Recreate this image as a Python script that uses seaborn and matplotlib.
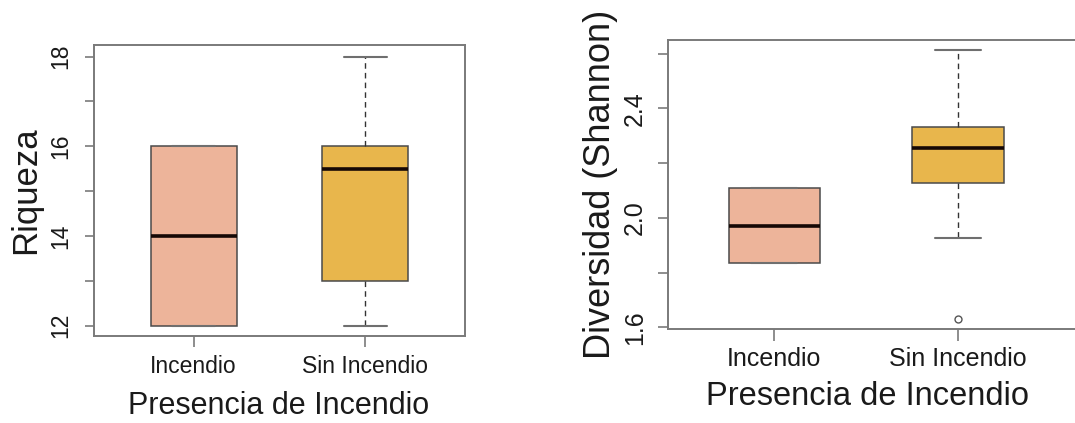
import numpy as np
import pandas as pd
import matplotlib
matplotlib.use("Agg")
import matplotlib.pyplot as plt
import seaborn as sns

# ---------------- data ----------------
categories = ["Incendio", "Sin Incendio"]
fill_colors = ["#EDB49A", "#E8B64C"]

# Riqueza: five-number summaries per group
riq_low = [12, 12]
riq_q1 = [12, 13]
riq_med = [14, 15.5]
riq_q3 = [16, 16]
riq_high = [16, 18]
riq_outliers = [[], []]
riq_ticks = [12, 13, 14, 15, 16, 17, 18]
riq_ticklabels = ["12", "", "14", "", "16", "", "18"]

# Diversidad (Shannon): five-number summaries per group
div_low = [1.836, 1.927]
div_q1 = [1.836, 2.126]
div_med = [1.972, 2.256]
div_q3 = [2.110, 2.333]
div_high = [2.110, 2.615]
div_outliers = [[], [1.632]]
div_ticks = [1.6, 1.8, 2.0, 2.2, 2.4, 2.6]
div_ticklabels = ["1.6", "", "2.0", "", "2.4", ""]


def build_table(low, q1, med, q3, high, outliers):
    """Long table whose quartiles/whiskers reproduce the summaries (n=9 per group)."""
    rows = []
    for i, cat in enumerate(categories):
        below = [o for o in outliers[i] if o < q1[i]]
        above = [o for o in outliers[i] if o > q3[i]]
        lower = (below + [low[i], low[i]])[:2]
        upper = ([high[i], high[i]] + above)[-2:]
        vals = lower + [q1[i], q1[i], med[i], q3[i], q3[i]] + upper
        rows += [(cat, v) for v in vals]
    return pd.DataFrame(rows, columns=["grupo", "valor"])


df_riq = build_table(riq_low, riq_q1, riq_med, riq_q3, riq_high, riq_outliers)
df_div = build_table(div_low, div_q1, div_med, div_q3, div_high, div_outliers)

# ---------------- style ----------------
sns.set_theme(style="ticks")
plt.rcParams["font.family"] = ["Liberation Sans", "DejaVu Sans"]

SPINE = "#7a7a7a"
TEXT = "#1a1a1a"

fig = plt.figure(figsize=(10.75, 4.23), dpi=100)
W, H = 1075.0, 423.0


def px_axes(x0, y0, x1, y1):
    return fig.add_axes([x0 / W, 1 - y1 / H, (x1 - x0) / W, (y1 - y0) / H])


ax1 = px_axes(94, 45, 465, 336)
ax2 = px_axes(668, 40, 1080, 329)


def draw(ax, df, xlim, ylim, ticks, ticklabels, ylabel, tick_fs, label_fs, ylabel_fs,
         ytick_len, ytick_pad, xtick_len, xtick_pad, ylab_x, xlab_y, xlab_x):
    sns.boxplot(
        data=df, x="grupo", y="valor", hue="grupo", order=categories,
        hue_order=categories, palette=fill_colors, saturation=1, width=0.5,
        whis=1.5, linecolor="#4a4a4a", linewidth=1.1, legend=False, ax=ax,
        medianprops={"color": "#150805", "linewidth": 2.6},
        whiskerprops={"color": "#333333", "linewidth": 1.0, "linestyle": (0, (4, 3))},
        capprops={"color": "#6f6f6f", "linewidth": 1.5},
        flierprops={"marker": "o", "markersize": 5, "markerfacecolor": "white",
                    "markeredgecolor": "#555555", "markeredgewidth": 1.0},
    )
    ax.set_xlim(*xlim)
    ax.set_ylim(*ylim)
    ax.set_yticks(ticks)
    ax.set_yticklabels(ticklabels)
    ax.set_xticks(range(len(categories)))
    ax.set_xticklabels(categories)
    for s in ax.spines.values():
        s.set_visible(True)
        s.set_color(SPINE)
        s.set_linewidth(1.4)
    ax.tick_params(axis="y", length=ytick_len, width=1.2, color=SPINE, pad=ytick_pad,
                   labelsize=tick_fs, labelcolor=TEXT, labelrotation=90)
    ax.tick_params(axis="x", length=xtick_len, width=1.2, color=SPINE, pad=xtick_pad,
                   labelsize=tick_fs, labelcolor=TEXT)
    for lab in ax.get_yticklabels():
        lab.set_va("center")
    ax.set_ylabel(ylabel, fontsize=ylabel_fs, color=TEXT)
    ax.set_xlabel("Presencia de Incendio", fontsize=label_fs, color=TEXT)
    ax.yaxis.set_label_coords(ylab_x, 0.5)
    ax.xaxis.set_label_coords(xlab_x, xlab_y)
    ax.set_facecolor("white")


draw(ax1, df_riq, (-0.58, 1.58), (11.77, 18.26), riq_ticks, riq_ticklabels, "Riqueza",
     tick_fs=16.5, label_fs=22, ylabel_fs=25, ytick_len=6.5, ytick_pad=9,
     xtick_len=8, xtick_pad=6, ylab_x=-0.14, xlab_y=-0.19, xlab_x=0.497)
draw(ax2, df_div, (-0.58, 1.667), (1.594, 2.650), div_ticks, div_ticklabels,
     "Diversidad (Shannon)",
     tick_fs=18, label_fs=23.5, ylabel_fs=26, ytick_len=7.2, ytick_pad=8,
     xtick_len=8.6, xtick_pad=4, ylab_x=-0.122, xlab_y=-0.18, xlab_x=0.484)

fig.savefig("out.png", dpi=100, facecolor="white")
